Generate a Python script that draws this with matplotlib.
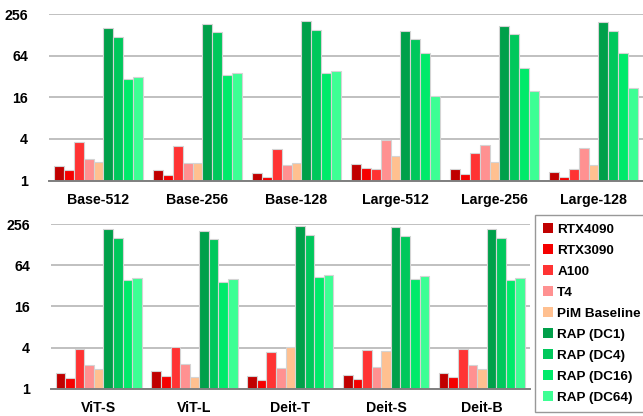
import numpy as np
import matplotlib.pyplot as plt
from matplotlib.patches import Patch

plt.rcParams['font.family'] = ['Liberation Sans', 'DejaVu Sans']
plt.rcParams['font.weight'] = 'bold'

series = ['RTX4090', 'RTX3090', 'A100', 'T4', 'PiM Baseline',
          'RAP (DC1)', 'RAP (DC4)', 'RAP (DC16)', 'RAP (DC64)']
colors = ['#c00000', '#f50000', '#ff3333', '#ff9191', '#ffc090',
          '#00a04a', '#00c85c', '#00ea6a', '#3dff94']

# speedup over baseline, one row per model, columns follow `series`
top_models = ['Base-512', 'Base-256', 'Base-128', 'Large-512', 'Large-256', 'Large-128']
top_vals = [
    [1.63, 1.40, 3.59, 2.08, 1.84, 160, 119, 29.3, 31.3],
    [1.40, 1.21, 3.14, 1.80, 1.82, 185, 139, 33.5, 36.6],
    [1.29, 1.11, 2.90, 1.67, 1.82, 202, 150, 36.6, 39.0],
    [1.76, 1.51, 1.49, 3.84, 2.25, 148, 110, 70.0, 16.8],
    [1.46, 1.26, 2.49, 3.28, 1.88, 175, 131, 42.0, 19.6],
    [1.32, 1.13, 1.49, 3.00, 1.70, 196, 145, 69.6, 21.7],
]

bot_models = ['ViT-S', 'ViT-L', 'Deit-T', 'Deit-S', 'Deit-B']
bot_vals = [
    [1.71, 1.46, 3.87, 2.24, 1.96, 214, 158, 38.5, 41.6],
    [1.81, 1.55, 4.10, 2.32, 1.51, 204, 153, 36.8, 39.8],
    [1.56, 1.34, 3.50, 2.00, 4.10, 239, 176, 42.6, 46.0],
    [1.62, 1.38, 3.67, 2.09, 3.58, 229, 171, 40.7, 44.6],
    [1.73, 1.48, 3.87, 2.27, 1.96, 214, 158, 38.5, 41.6],
]

fig = plt.figure(figsize=(6.43, 4.16), dpi=100)
ax1 = fig.add_axes([0.0762, 0.566, 0.9238, 0.400])
ax2 = fig.add_axes([0.079, 0.065, 0.745, 0.3965])


def draw(ax, models, vals):
    vals = np.array(vals)
    n = len(models)
    centers = np.arange(n) * 10
    for j in range(len(series)):
        ax.bar(centers + j - 4, vals[:, j] - 1, bottom=1, width=1.0,
               color=colors[j], edgecolor='#d4d4d4', linewidth=0.8, zorder=3)
    ax.set_yscale('log', base=2)
    ax.set_ylim(1, 256)
    ax.set_yticks([1, 4, 16, 64, 256])
    ax.set_yticklabels(['1', '4', '16', '64', '256'])
    ax.set_xlim(-5, n * 10 - 5)
    ax.set_xticks(centers)
    ax.set_xticklabels(models)
    ax.minorticks_off()
    ax.yaxis.grid(True, color='#c0c0c0', linewidth=1.4, zorder=0)
    ax.tick_params(axis='both', length=0, labelsize=10.2)
    ax.tick_params(axis='y', pad=15)
    ax.tick_params(axis='x', pad=9)
    for s in ('top', 'right', 'left'):
        ax.spines[s].set_visible(False)
    ax.spines['bottom'].set_color('#7f7f7f')
    ax.spines['bottom'].set_linewidth(1.4)
    ax.spines['bottom'].set_zorder(4)


draw(ax1, top_models, top_vals)
draw(ax2, bot_models, bot_vals)

handles = [Patch(facecolor=c, edgecolor='none') for c in colors]
leg = fig.legend(handles, series, loc='upper left',
                 bbox_to_anchor=(0.832, 0.483), frameon=True, fancybox=False,
                 fontsize=9.7, handlelength=0.75, handleheight=0.75,
                 handletextpad=0.28, labelspacing=0.62, borderpad=0.62,
                 borderaxespad=0)
leg.get_frame().set_edgecolor('#7f7f7f')
leg.get_frame().set_linewidth(1.0)

fig.savefig('out.png', dpi=100)
